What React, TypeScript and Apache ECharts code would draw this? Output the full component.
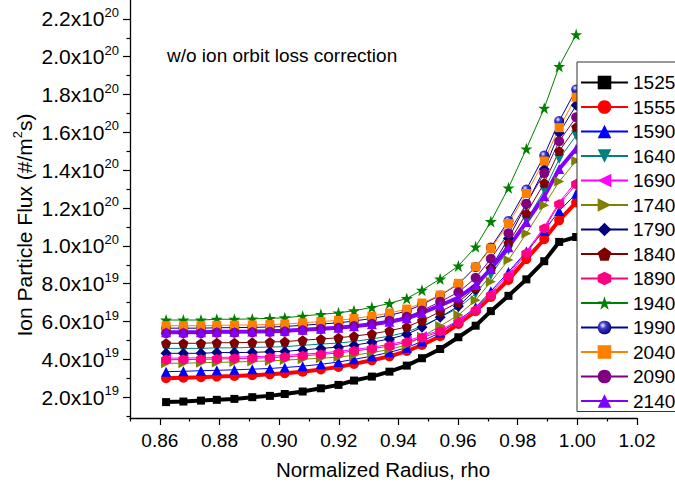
import React, { useEffect, useRef } from 'react';
import * as echarts from 'echarts';

// ---------- data (flux values in units of 1e19 #/m^2s) ----------
const rho = [0.8621, 0.8679, 0.8738, 0.8791, 0.885, 0.891, 0.8969, 0.9019, 0.9079, 0.914, 0.9199, 0.9251, 0.9311, 0.937, 0.9428, 0.9479, 0.954, 0.9601, 0.9659, 0.971, 0.9769, 0.9829, 0.9889, 0.9939, 0.9996];

const seriesNames = ['1525', '1555', '1590', '1640', '1690', '1740', '1790', '1840', '1890', '1940', '1990', '2040', '2090', '2140'];

const v1525 = [1.74, 1.77, 1.82, 1.86, 1.91, 2.0, 2.07, 2.17, 2.3, 2.47, 2.65, 2.88, 3.09, 3.35, 3.67, 4.06, 4.55, 5.17, 5.78, 6.55, 7.36, 8.23, 9.19, 10.21, 10.47];
const v1555 = [3.0, 3.03, 3.06, 3.09, 3.12, 3.16, 3.21, 3.27, 3.35, 3.47, 3.6, 3.76, 3.95, 4.16, 4.44, 4.76, 5.22, 5.87, 6.55, 7.3, 8.2, 9.3, 10.35, 11.35, 12.3];
const v1590 = [3.35, 3.37, 3.4, 3.42, 3.45, 3.48, 3.52, 3.57, 3.64, 3.74, 3.86, 4.0, 4.17, 4.37, 4.62, 4.95, 5.42, 6.05, 6.75, 7.6, 8.62, 9.7, 10.8, 11.85, 12.75];
const v1640 = [4.58, 4.58, 4.58, 4.61, 4.61, 4.63, 4.65, 4.67, 4.74, 4.81, 4.86, 4.95, 5.08, 5.23, 5.44, 5.76, 6.22, 6.72, 7.47, 8.46, 9.79, 11.34, 12.94, 14.59, 15.84];
const v1690 = [4.06, 4.07, 4.08, 4.1, 4.12, 4.14, 4.17, 4.21, 4.27, 4.34, 4.42, 4.52, 4.64, 4.79, 4.98, 5.22, 5.55, 6.05, 6.7, 7.5, 8.5, 9.7, 11.0, 12.3, 13.4];
const v1740 = [3.79, 3.8, 3.82, 3.84, 3.86, 3.89, 3.92, 3.96, 4.01, 4.06, 4.12, 4.22, 4.36, 4.52, 4.76, 5.2, 5.76, 6.34, 7.13, 8.1, 9.25, 10.65, 12.15, 13.4, 14.5];
const v1790 = [4.32, 4.32, 4.32, 4.36, 4.36, 4.37, 4.4, 4.42, 4.5, 4.58, 4.65, 4.75, 4.9, 5.08, 5.32, 5.7, 6.23, 6.81, 7.69, 8.84, 10.39, 12.19, 14.05, 15.97, 17.43];
const v1840 = [4.85, 4.85, 4.85, 4.88, 4.88, 4.9, 4.92, 4.94, 5.01, 5.08, 5.14, 5.23, 5.35, 5.51, 5.72, 6.05, 6.52, 7.02, 7.79, 8.79, 10.14, 11.71, 13.33, 15.01, 16.28];
const v1890 = [3.98, 3.99, 4.0, 4.02, 4.04, 4.06, 4.09, 4.13, 4.19, 4.26, 4.34, 4.44, 4.56, 4.71, 4.9, 5.14, 5.47, 5.95, 6.58, 7.38, 8.38, 9.6, 10.92, 12.2, 13.25];
const v1940 = [6.08, 6.08, 6.08, 6.12, 6.12, 6.14, 6.17, 6.2, 6.29, 6.38, 6.46, 6.57, 6.75, 6.96, 7.22, 7.66, 8.25, 8.94, 9.95, 11.29, 13.07, 15.13, 17.28, 19.49, 21.17];
const v1990 = [5.65, 5.65, 5.65, 5.67, 5.68, 5.69, 5.71, 5.74, 5.8, 5.87, 5.93, 6.03, 6.16, 6.33, 6.55, 6.9, 7.38, 7.98, 8.88, 9.92, 11.32, 12.98, 14.78, 16.6, 18.27];
const v2040 = [5.78, 5.78, 5.78, 5.8, 5.81, 5.82, 5.84, 5.87, 5.93, 6.0, 6.06, 6.16, 6.29, 6.45, 6.66, 6.98, 7.4, 8.02, 8.89, 9.86, 11.18, 12.77, 14.49, 16.25, 17.86];
const v2090 = [5.38, 5.38, 5.38, 5.41, 5.41, 5.43, 5.45, 5.47, 5.54, 5.61, 5.67, 5.76, 5.88, 6.04, 6.25, 6.58, 7.05, 7.55, 8.31, 9.32, 10.67, 12.23, 13.85, 15.53, 16.8];
const v2140 = [5.43, 5.43, 5.43, 5.46, 5.46, 5.47, 5.49, 5.51, 5.57, 5.62, 5.67, 5.75, 5.86, 5.99, 6.17, 6.45, 6.85, 7.27, 7.93, 8.78, 9.93, 11.26, 12.63, 14.06, 15.14];

const seriesValues = [v1525, v1555, v1590, v1640, v1690, v1740, v1790, v1840, v1890, v1940, v1990, v2040, v2090, v2140];

const xMajorTicks = [0.86, 0.88, 0.9, 0.92, 0.94, 0.96, 0.98, 1.0, 1.02];
const xMinorTicks = [0.85, 0.87, 0.89, 0.91, 0.93, 0.95, 0.97, 0.99, 1.01];
const yMajorTicks = [2, 4, 6, 8, 10, 12, 14, 16, 18, 20, 22];
const yMinorTicks = [1, 3, 5, 7, 9, 11, 13, 15, 17, 19, 21];

const titleText = 'w/o ion orbit loss correction';
const xName = 'Normalized Radius, rho';

// ---------- styles ----------
const FONT = '"Liberation Sans", Arial, sans-serif';
const STAR = 'path://M50,0 L61.8,35.1 L98.9,35.1 L68.9,56.9 L80.2,91.9 L50,70.2 L19.8,91.9 L31.1,56.9 L1.1,35.1 L38.2,35.1 Z';
const PENTAGON = 'path://M50,0 L100,38 L81,100 L19,100 L0,38 Z';
const HEXAGON = 'path://M50,0 L93.3,25 L93.3,75 L50,100 L6.7,75 L6.7,25 Z';
const BALL = {
  type: 'radial', x: 0.38, y: 0.35, r: 0.7,
  colorStops: [
    { offset: 0, color: '#ffffff' },
    { offset: 0.35, color: '#3a3ad0' },
    { offset: 1, color: '#00006a' },
  ],
};

const styles: any[] = [
  { color: '#000000', line: '#000000', symbol: 'rect', size: 8, width: 4, rotate: 0 },
  { color: '#ff0000', line: '#ff0000', symbol: 'circle', size: 10, width: 4, rotate: 0 },
  { color: '#0000ff', line: '#0000ff', symbol: 'triangle', size: 10, width: 1, rotate: 0 },
  { color: '#008080', line: '#008080', symbol: 'triangle', size: 10, width: 1, rotate: 180 },
  { color: '#ff00ff', line: '#ff00ff', symbol: 'triangle', size: 10, width: 1, rotate: 90 },
  { color: '#808000', line: '#808000', symbol: 'triangle', size: 10, width: 1, rotate: -90 },
  { color: '#000080', line: '#000080', symbol: 'diamond', size: 11, width: 1, rotate: 0 },
  { color: '#800000', line: '#800000', symbol: PENTAGON, size: 10, width: 1, rotate: 0 },
  { color: '#ff0080', line: '#ff0080', symbol: HEXAGON, size: 10, width: 1, rotate: 0 },
  { color: '#008000', line: '#008000', symbol: STAR, size: 12, width: 1, rotate: 0 },
  { color: BALL, line: '#0000a0', symbol: 'circle', size: 10, width: 1, rotate: 0 },
  { color: '#ff8000', line: '#ff8000', symbol: 'rect', size: 9, width: 1, rotate: 0 },
  { color: '#800080', line: '#800080', symbol: 'circle', size: 10, width: 1, rotate: 0 },
  { color: '#8000ff', line: '#8000ff', symbol: 'triangle', size: 10, width: 4, rotate: 0 },
];

function yLabel(v: number) {
  const exp = v >= 10 ? 20 : 19;
  const m = v >= 10 ? v / 10 : v;
  return `{a|${m.toFixed(1)}x10}{b|${exp}}`;
}

export default function App() {
  const ref = useRef<HTMLDivElement>(null);
  useEffect(() => {
    if (!ref.current) return;
    const chart = echarts.init(ref.current, undefined, { renderer: 'svg' });
    const series = seriesNames.map((name, i) => ({
      name,
      type: 'line',
      data: rho.map((x, j) => [x, seriesValues[i][j]]),
      symbol: styles[i].symbol,
      symbolSize: styles[i].size,
      symbolRotate: styles[i].rotate,
      showSymbol: true,
      itemStyle: { color: styles[i].color, borderWidth: 0 },
      lineStyle: { color: styles[i].line, width: styles[i].width },
      emphasis: { disabled: true },
      z: 2,
    }));
    const option: any = {
      animation: false,
      textStyle: { fontFamily: FONT },
      grid: { left: 130, right: 38, top: 0, bottom: 75, containLabel: false },
      xAxis: [
        {
          type: 'value', min: 0.85, max: 1.02, position: 'bottom',
          axisLine: { show: true, lineStyle: { color: '#000', width: 1.3 } },
          axisTick: { show: true, customValues: xMajorTicks, length: 7, lineStyle: { color: '#000', width: 1.2 } },
          axisLabel: { customValues: xMajorTicks, formatter: (v: number) => v.toFixed(2), fontSize: 19, color: '#000', margin: 13, fontFamily: FONT },
          splitLine: { show: false },
        },
        {
          type: 'value', min: 0.85, max: 1.02, position: 'bottom', gridIndex: 0,
          axisLine: { show: false },
          axisTick: { show: true, customValues: xMinorTicks, length: 3.5, lineStyle: { color: '#000', width: 1.2 } },
          axisLabel: { show: false },
          splitLine: { show: false },
        },
      ],
      yAxis: [
        {
          type: 'value', min: 0.9, max: 23, position: 'left',
          axisLine: { show: true, lineStyle: { color: '#000', width: 1.3 } },
          axisTick: { show: true, customValues: yMajorTicks, length: 7, lineStyle: { color: '#000', width: 1.2 } },
          axisLabel: {
            customValues: yMajorTicks, formatter: yLabel, margin: 11, color: '#000',
            rich: {
              a: { fontSize: 21, fontFamily: FONT, color: '#000', lineHeight: 26 },
              b: { fontSize: 13, fontFamily: FONT, color: '#000', verticalAlign: 'top', lineHeight: 13 },
            },
          },
          splitLine: { show: false },
        },
        {
          type: 'value', min: 0.9, max: 23, position: 'left',
          axisLine: { show: false },
          axisTick: { show: true, customValues: yMinorTicks, length: 3.5, lineStyle: { color: '#000', width: 1.2 } },
          axisLabel: { show: false },
          splitLine: { show: false },
        },
      ],
      legend: {
        data: seriesNames,
        orient: 'vertical',
        left: 577, top: 62,
        itemWidth: 47, itemHeight: 17, itemGap: 5.5,
        padding: [11, 4, 1, 3],
        borderColor: '#333', borderWidth: 1, backgroundColor: '#fff',
        textStyle: { fontSize: 19, fontFamily: FONT, color: '#000' },
        selectedMode: false,
        z: 10,
      },
      graphic: [
        {
          type: 'text', left: 167, top: 46,
          style: { text: titleText, fontSize: 19, fontFamily: FONT, fill: '#000' },
        },
        {
          type: 'text', x: 383, y: 469,
          style: { text: xName, fontSize: 20.5, fontFamily: FONT, fill: '#000', align: 'center', verticalAlign: 'middle' },
        },
        {
          type: 'text', x: 24, y: 225, rotation: Math.PI / 2,
          style: {
            text: 'Ion Particle Flux (#/m{s|2}s)', fontSize: 21, fontFamily: FONT, fill: '#000',
            align: 'center', verticalAlign: 'middle', lineHeight: 26,
            rich: { s: { fontSize: 13, fontFamily: FONT, fill: '#000', verticalAlign: 'top', lineHeight: 13 } },
          },
        },
      ],
      series,
    };
    chart.setOption(option);
    return () => chart.dispose();
  }, []);
  return <div ref={ref} style={{ position: 'fixed', left: 0, top: 0, width: 675, height: 493, background: '#fff' }} />;
}
